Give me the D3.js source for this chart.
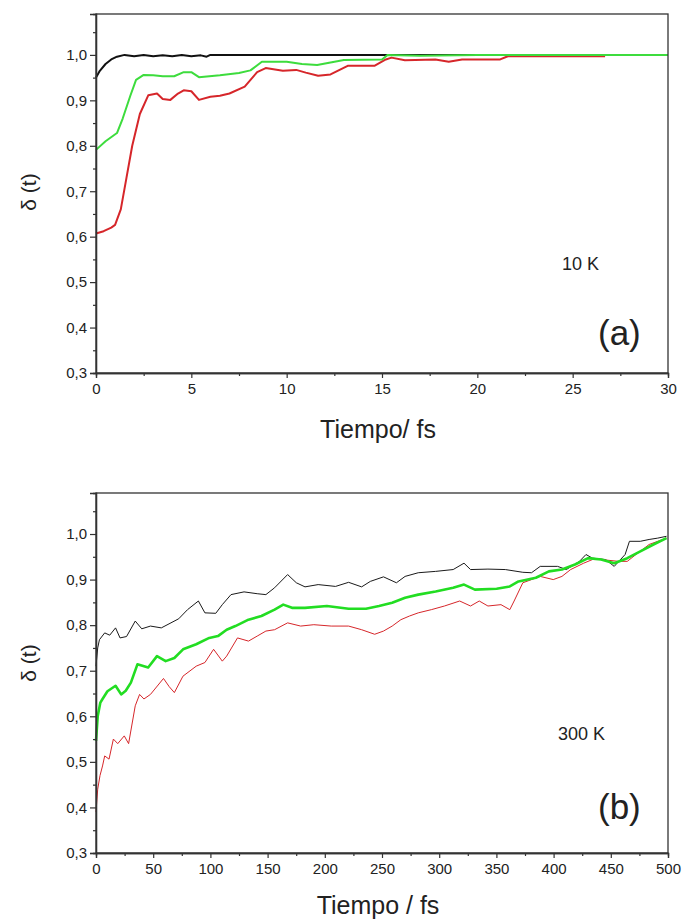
<!DOCTYPE html>
<html>
<head>
<meta charset="utf-8">
<script src="https://cdn.jsdelivr.net/npm/d3@7"></script>
<style>
  body { margin: 0; background: #fff; }
  text { font-family: "Liberation Sans", Arial, sans-serif; fill: #222; }
</style>
</head>
<body>
<svg id="chart" width="683" height="924"></svg>
<script>
// 10 K panel (a): time in fs, delta(t)
const aBlackT = [0, 0.2, 0.5, 0.8, 1.1, 1.5, 2.0, 2.5, 3.0, 3.5, 4.0, 4.5, 5.0, 5.5, 5.8, 6.0, 21.5, 26.7];
const aBlackY = [0.95, 0.965, 0.98, 0.99, 0.996, 1.0, 0.997, 1.0, 0.997, 0.999, 0.997, 1.0, 0.997, 0.999, 0.996, 1.0, 1.0, 0.999];

const aRedT = [0, 0.4, 0.8, 1.0, 1.3, 1.6, 1.9, 2.3, 2.74, 3.2, 3.5, 3.9, 4.3, 4.6, 5.0, 5.4, 6.0, 6.5, 7.0, 7.8, 8.45, 8.9, 9.8, 10.5, 11.0, 11.65, 12.3, 13.2, 14.6, 15.2, 15.5, 16.2, 17.8, 18.5, 19.2, 21.2, 21.6, 26.7];
const aRedY = [0.607, 0.612, 0.62, 0.626, 0.66, 0.73, 0.8, 0.87, 0.911, 0.915, 0.903, 0.901, 0.915, 0.922, 0.92, 0.901, 0.908, 0.91, 0.915, 0.93, 0.962, 0.971, 0.965, 0.967, 0.961, 0.954, 0.957, 0.976, 0.976, 0.99, 0.994, 0.988, 0.99, 0.985, 0.99, 0.99, 0.997, 0.997];

const aGreenT = [0, 0.5, 1.1, 1.4, 1.8, 2.1, 2.5, 3.0, 3.5, 4.1, 4.6, 5.0, 5.4, 6.5, 7.5, 8.1, 8.7, 10.0, 10.8, 11.6, 13.0, 15.0, 15.3, 17.0, 20.0, 30.0];
const aGreenY = [0.791, 0.81, 0.828, 0.86, 0.91, 0.945, 0.956, 0.955, 0.953, 0.953, 0.962, 0.962, 0.951, 0.955, 0.96, 0.966, 0.985, 0.985, 0.98, 0.978, 0.989, 0.99, 1.0, 0.998, 1.0, 1.0];

// 300 K panel (b)
const bBlackT = [0, 1.5, 3, 7.6, 12, 17.1, 21, 26.7, 34.3, 40, 47.6, 57.1, 64.7, 72.3, 80, 89.5, 95.2, 104.7, 110.4, 118, 129.4, 140.9, 148.5, 156.1, 167.5, 175.1, 182.7, 194.2, 209.4, 220.8, 232.2, 239.8, 251.3, 262.6, 270.2, 281.7, 296.9, 312.2, 321.7, 327.4, 342.6, 357.8, 373.1, 380.7, 388.3, 403.5, 411.1, 422.6, 428.3, 434, 445.4, 453, 462.5, 466.3, 475.8, 483.5, 491, 498.7];
const bBlackY = [0.71, 0.75, 0.768, 0.783, 0.778, 0.794, 0.772, 0.775, 0.809, 0.792, 0.798, 0.794, 0.804, 0.814, 0.834, 0.853, 0.827, 0.826, 0.845, 0.867, 0.873, 0.869, 0.867, 0.882, 0.911, 0.893, 0.884, 0.889, 0.885, 0.894, 0.884, 0.896, 0.906, 0.893, 0.907, 0.915, 0.918, 0.922, 0.936, 0.922, 0.923, 0.922, 0.916, 0.915, 0.929, 0.929, 0.922, 0.94, 0.955, 0.947, 0.944, 0.929, 0.955, 0.984, 0.984, 0.988, 0.991, 0.995];

const bGreenT = [0, 1.5, 3.8, 5.7, 10, 17.1, 22, 26, 30.5, 36.2, 45.6, 53.3, 60.9, 68.5, 76.1, 87.6, 99, 106.6, 114.2, 121.8, 133.3, 144.6, 156.1, 163.7, 171.3, 182.7, 201.8, 220.8, 236, 247.4, 258.9, 270.2, 281.7, 296.9, 312.2, 321.7, 331.2, 350.2, 361.7, 369.3, 384.5, 395.9, 407.3, 418.7, 430.2, 441.5, 453, 464.4, 475.8, 487.3, 498.7];
const bGreenY = [0.546, 0.6, 0.63, 0.638, 0.655, 0.667, 0.648, 0.656, 0.674, 0.714, 0.707, 0.732, 0.721, 0.728, 0.747, 0.758, 0.772, 0.776, 0.79, 0.798, 0.812, 0.82, 0.834, 0.845, 0.838, 0.838, 0.842, 0.836, 0.836, 0.842, 0.849, 0.86, 0.867, 0.874, 0.882, 0.889, 0.878, 0.88, 0.885, 0.896, 0.904, 0.918, 0.922, 0.933, 0.947, 0.944, 0.936, 0.947, 0.962, 0.977, 0.991];

const bRedT = [0, 1.5, 3.5, 5.7, 7.6, 11.4, 15.2, 19, 24.7, 28.5, 34.3, 38.1, 41.9, 47.6, 59, 64, 68.5, 76, 87.6, 95.2, 102.8, 110.4, 114.2, 123.7, 133.3, 140.9, 148.5, 156.1, 167.5, 178.9, 190.4, 205.6, 220.8, 232.2, 243.6, 251.3, 258.9, 266.5, 274, 281.7, 293.1, 304.6, 317.9, 327.4, 335, 342.6, 354, 361.7, 365.5, 373.1, 380.7, 388.3, 399.7, 407.3, 414.9, 426.3, 434, 441.5, 456.8, 464.4, 472, 483.5, 491, 498.7];
const bRedY = [0.39, 0.44, 0.47, 0.491, 0.513, 0.506, 0.55, 0.54, 0.557, 0.54, 0.623, 0.648, 0.638, 0.648, 0.683, 0.665, 0.652, 0.688, 0.71, 0.718, 0.747, 0.721, 0.732, 0.772, 0.765, 0.776, 0.787, 0.79, 0.805, 0.798, 0.801, 0.798, 0.798, 0.79, 0.78, 0.787, 0.798, 0.812, 0.82, 0.827, 0.834, 0.842, 0.853, 0.842, 0.853, 0.842, 0.845, 0.834, 0.853, 0.893, 0.9, 0.907, 0.9, 0.907, 0.922, 0.936, 0.944, 0.944, 0.94, 0.94, 0.955, 0.977, 0.984, 0.991];

const yTicks = [0.3, 0.4, 0.5, 0.6, 0.7, 0.8, 0.9, 1.0];
const yMinor = [0.35, 0.45, 0.55, 0.65, 0.75, 0.85, 0.95, 1.05];
const aTicks = [0, 5, 10, 15, 20, 25, 30];
const aMinor = [2.5, 7.5, 12.5, 17.5, 22.5, 27.5];
const bTicks = [0, 50, 100, 150, 200, 250, 300, 350, 400, 450, 500];
const bMinor = [25, 75, 125, 175, 225, 275, 325, 375, 425, 475];

const svg = d3.select("#chart");
const comma = (d) => d3.format(".1f")(d).replace(".", ",");

const zip = (ts, ys) => ts.map((t, i) => ({ t: t, y: ys[i] }));

const panel = (opt) => {
  const margin = { left: 96, right: 15 };
  const innerWidth = 683 - margin.left - margin.right;
  const innerHeight = opt.bottom - opt.top;

  const xScale = d3.scaleLinear().domain(opt.xDomain).range([0, innerWidth]);
  const yScale = d3.scaleLinear().domain([0.3, 1.09]).range([innerHeight, 0]);

  const g = svg.append("g").attr("transform", `translate(${margin.left},${opt.top})`);

  // lines
  const lineGenerator = d3.line().x((d) => xScale(d.t)).y((d) => yScale(d.y));
  opt.series.forEach((s) => {
    g.append("path")
      .attr("d", lineGenerator(zip(s.t, s.y)))
      .attr("fill", "none")
      .attr("stroke", s.color)
      .attr("stroke-width", s.width)
      .attr("stroke-linejoin", "round");
  });

  // frame
  g.append("rect")
    .attr("width", innerWidth).attr("height", innerHeight)
    .attr("fill", "none").attr("stroke", "#333").attr("stroke-width", 1.3);

  // y-Axis
  const yAxisG = g.append("g").call(
    d3.axisLeft(yScale).tickValues(yTicks).tickFormat(comma).tickSize(6).tickPadding(3)
  );
  yAxisG.append("g").call(d3.axisLeft(yScale).tickValues(yMinor).tickFormat("").tickSize(3));

  // x-Axis
  const xAxisG = g.append("g").attr("transform", `translate(0,${innerHeight})`).call(
    d3.axisBottom(xScale).tickValues(opt.xTicks).tickSize(5).tickPadding(5)
  );
  xAxisG.append("g").call(d3.axisBottom(xScale).tickValues(opt.xMinor).tickFormat("").tickSize(3));

  g.selectAll(".domain").attr("stroke", "#333").attr("stroke-width", 1.3);
  g.selectAll(".tick line").attr("stroke", "#333").attr("stroke-width", 1.2);
  g.selectAll(".tick text").attr("font-size", "15px").attr("fill", "#222")
    .attr("font-family", "Liberation Sans, Arial, sans-serif");

  // axis titles
  g.append("text")
    .attr("x", innerWidth / 2 - 4)
    .attr("y", innerHeight + opt.xTitleDy)
    .attr("text-anchor", "middle")
    .attr("font-size", "25px")
    .text(opt.xTitle);
  g.append("text")
    .attr("transform", `translate(-60,${opt.yTitleY}) rotate(-90)`)
    .attr("text-anchor", "middle")
    .attr("font-size", "21px")
    .text("\u03b4 (t)");

  // labels
  g.append("text")
    .attr("x", opt.tempX).attr("y", opt.tempY)
    .attr("font-size", "18px")
    .text(opt.temp);
  g.append("text")
    .attr("x", opt.tagX).attr("y", opt.tagY)
    .attr("font-size", "35px")
    .text(opt.tag);
};

panel({
  top: 14, bottom: 373,
  xDomain: [0, 30], xTicks: aTicks, xMinor: aMinor,
  xTitle: "Tiempo/ fs", xTitleDy: 65, yTitleY: 178,
  temp: "10 K", tempX: 466, tempY: 256,
  tag: "(a)", tagX: 502, tagY: 331,
  series: [
    { t: aBlackT, y: aBlackY, color: "#111111", width: 2 },
    { t: aRedT, y: aRedY, color: "#d6262a", width: 2 },
    { t: aGreenT, y: aGreenY, color: "#3ddc3d", width: 2 }
  ]
});

panel({
  top: 493, bottom: 853,
  xDomain: [0, 500], xTicks: bTicks, xMinor: bMinor,
  xTitle: "Tiempo / fs", xTitleDy: 61, yTitleY: 170,
  temp: "300 K", tempX: 462, tempY: 247,
  tag: "(b)", tagX: 502, tagY: 326,
  series: [
    { t: bBlackT, y: bBlackY, color: "#1a1a1a", width: 1 },
    { t: bRedT, y: bRedY, color: "#d6262a", width: 1 },
    { t: bGreenT, y: bGreenY, color: "#22dd22", width: 2.6 }
  ]
});
</script>
</body>
</html>
